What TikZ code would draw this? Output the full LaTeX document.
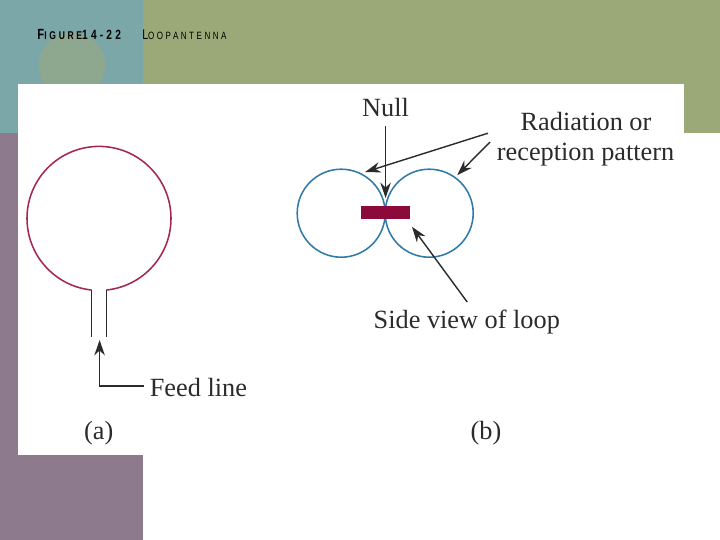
\documentclass[tikz,border=0pt]{standalone}
\usepackage{fontspec}
\setmainfont{Liberation Serif}
\newfontfamily\headfont[LetterSpace=24,FakeStretch=0.76]{Liberation Sans}
\usetikzlibrary{positioning, arrows.meta, calc}
\definecolor{SlideTeal}{HTML}{7BA7A9}
\definecolor{SlideOlive}{HTML}{9BA878}
\definecolor{SlideMauve}{HTML}{8D7B8D}
\definecolor{SlideBlob}{HTML}{8EA88F}
\definecolor{LoopRed}{HTML}{A3294F}
\definecolor{LobeBlue}{HTML}{2F7BA8}
\definecolor{BarRed}{HTML}{8B0A3A}
\definecolor{InkGray}{HTML}{2B2B2B}

\begin{document}
\begin{tikzpicture}[
    lobe/.style={circle, draw=LobeBlue, line width=1.1pt, minimum size=2.2cm, inner sep=0pt},
    wire/.style={draw=InkGray, line width=1.1pt},
    callout/.style={-{Stealth[length=11pt, width=7.5pt]}, draw=InkGray, line width=1pt},
    label/.style={font=\fontsize{18.7}{22}\selectfont, text=InkGray, inner sep=0pt, align=center},
    head/.style={font=\headfont, inner sep=0pt, anchor=west}
]
  \useasboundingbox (0,0) rectangle (18,-13.5);
  % Slide background
  \fill[white] (0,0) rectangle (18,-13.5);
  \fill[SlideTeal] (0,0) rectangle (3.58,-3.33);
  \fill[SlideOlive] (3.58,0) rectangle (18,-3.33);
  \fill[SlideMauve] (0,-3.33) rectangle (3.58,-13.5);
  \fill[SlideBlob] (1.8,-1.65) circle (0.83);
  \fill[white] (0.45,-2.1) rectangle (17.1,-11.37);
  % Heading
  \node[head] (fig) at (0.93,-0.85) {\fontsize{10.5}{11}\selectfont\bfseries F\fontsize{8}{9}\selectfont IGURE\fontsize{9.5}{10}\selectfont 14-22};
  \node[head] (title) at (3.55,-0.87) {\fontsize{10}{11}\selectfont L\fontsize{7.5}{8}\selectfont OOPANTENNA};
  % Loop, part (a)
  \coordinate (loopc) at (2.475,-5.46);
  \coordinate (feedLt) at ($(loopc)+(264:1.8)$);
  \coordinate (feedRt) at ($(loopc)+(-84:1.8)$);
  \coordinate (feedLb) at (feedLt |- 0,-8.43);
  \coordinate (feedRb) at (feedRt |- 0,-8.43);
  \draw[draw=LoopRed, line width=1.1pt] (feedRt) arc[start angle=-84, end angle=264, radius=1.8];
  \draw[wire] (feedLt) -- (feedLb);
  \draw[wire] (feedRt) -- (feedRb);
  \node[label, anchor=west] (feed) at (3.74,-9.68) {Feed line};
  \coordinate (feedtail) at (3.59,-9.65);
  \coordinate (feedtip) at (2.49,-8.5);
  \coordinate (feedbend) at (2.49,-9.65);
  \draw[callout] (feedtail) -- (feedbend) -- (feedtip);
  \node[label] (capa) at (2.47,-10.83) {(a)};
  % Pattern, part (b)
  \node[lobe] (lobeL) at (8.53,-5.33) {};
  \node[lobe] (lobeR) at (10.73,-5.33) {};
  \node[fill=BarRed, minimum width=1.22cm, minimum height=0.33cm, inner sep=0pt] (bar) at (9.63,-5.31) {};
  \node[label] (null) at (9.64,-2.7) {Null};
  \node[label] (radio) at (14.65,-3.05) {Radiation or};
  \node[label] (recep) at (14.64,-3.86) {reception pattern};
  \node[label] (side) at (11.67,-8.05) {Side view of loop};
  \node[label] (capb) at (12.15,-10.83) {(b)};
  \coordinate (nulltail) at (9.64,-3.15);
  \coordinate (nulltip) at (9.64,-4.95);
  \coordinate (radtail) at (12.2,-3.33);
  \coordinate (radtip) at (9.13,-4.3);
  \coordinate (rectail) at (12.25,-3.55);
  \coordinate (rectip) at (11.43,-4.38);
  \coordinate (sidetail) at (11.68,-7.55);
  \coordinate (sidetip) at (10.3,-5.67);
  \foreach \a/\b in {nulltail/nulltip, radtail/radtip, rectail/rectip, sidetail/sidetip}{
    \draw[callout] (\a) -- (\b);
  }
\end{tikzpicture}
\end{document}
